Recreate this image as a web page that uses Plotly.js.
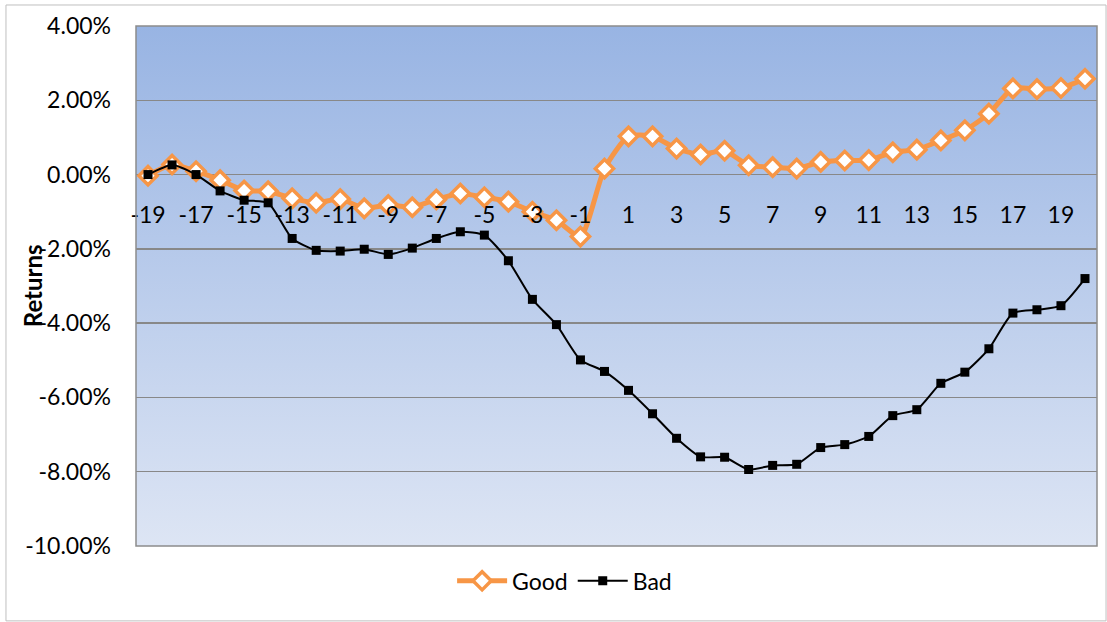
<!DOCTYPE html>
<html>
<head>
<meta charset="utf-8">
<script src="https://cdn.plot.ly/plotly-3.0.1.min.js"></script>
<style>
  html, body { margin: 0; padding: 0; background: #ffffff; }
  #chart { width: 1107px; height: 622px; }
</style>
</head>
<body>
<div id="chart"></div>
<script>
// Event-day axis (categories)
const days = [-19,-18,-17,-16,-15,-14,-13,-12,-11,-10,-9,-8,-7,-6,-5,-4,-3,-2,-1,0,
              1,2,3,4,5,6,7,8,9,10,11,12,13,14,15,16,17,18,19,20];
// Returns in percent
const goodReturns = [-0.03,0.27,0.09,-0.15,-0.43,-0.45,-0.64,-0.76,-0.66,-0.91,-0.82,-0.88,-0.67,-0.51,-0.61,-0.73,-1.00,-1.23,-1.67,0.16,
                     1.03,1.03,0.70,0.54,0.64,0.25,0.20,0.16,0.34,0.38,0.39,0.60,0.67,0.92,1.19,1.64,2.32,2.30,2.33,2.58];
const badReturns  = [0.00,0.26,0.00,-0.44,-0.69,-0.76,-1.72,-2.04,-2.06,-2.01,-2.15,-1.98,-1.72,-1.54,-1.63,-2.32,-3.36,-4.04,-4.99,-5.30,
                     -5.81,-6.44,-7.10,-7.60,-7.61,-7.94,-7.83,-7.80,-7.35,-7.27,-7.05,-6.49,-6.33,-5.62,-5.32,-4.69,-3.73,-3.64,-3.53,-2.80];
const xTickVals = [-19,-17,-15,-13,-11,-9,-7,-5,-3,-1,1,3,5,7,9,11,13,15,17,19];
const xTickText = ['-19','-17','-15','-13','-11','-9','-7','-5','-3','-1','1','3','5','7','9','11','13','15','17','19'];
const yTickVals = [-10,-8,-6,-4,-2,0,2,4];
const yTickText = ['-10.00%','-8.00%','-6.00%','-4.00%','-2.00%','0.00%','2.00%','4.00%'];

const fontFam = 'Lato, "Noto Sans", "Liberation Sans", sans-serif';

const gradSvg = '<svg xmlns="http://www.w3.org/2000/svg" width="100" height="100" preserveAspectRatio="none">' +
  '<defs><linearGradient id="g" x1="0" y1="0" x2="0" y2="1">' +
  '<stop offset="0" stop-color="#98B4E3"/><stop offset="1" stop-color="#DDE5F4"/>' +
  '</linearGradient></defs><rect width="100" height="100" fill="url(#g)"/></svg>';
const gradUri = 'data:image/svg+xml;base64,' + btoa(gradSvg);

const traces = [
  {
    x: days, y: goodReturns, name: 'Good', type: 'scatter', mode: 'lines+markers',
    line: {color: '#F79646', width: 5, shape: 'spline', smoothing: 0.6},
    marker: {symbol: 'diamond', size: 14, color: '#FFFFFF', line: {color: '#F79646', width: 3.5}}
  },
  {
    x: days, y: badReturns, name: 'Bad', type: 'scatter', mode: 'lines+markers',
    line: {color: '#000000', width: 2, shape: 'spline', smoothing: 0.6},
    marker: {symbol: 'square', size: 9, color: '#000000'}
  }
];

const layout = {
  width: 1107, height: 622,
  margin: {l: 136, r: 10, t: 26, b: 76},
  paper_bgcolor: '#FFFFFF',
  plot_bgcolor: 'rgba(0,0,0,0)',
  font: {family: fontFam, size: 23, color: '#000000'},
  showlegend: true,
  legend: {
    orientation: 'h', x: 0.446, xanchor: 'center', y: -0.067, yanchor: 'middle',
    itemwidth: 50, tracegroupgap: 0,
    font: {family: fontFam, size: 23, color: '#000000'}, bgcolor: 'rgba(0,0,0,0)'
  },
  xaxis: {
    range: [-19.5, 20.5], tickvals: xTickVals, ticktext: xTickText,
    showgrid: false, zeroline: false, showline: false, ticks: '',
    anchor: 'free', position: 10/14, ticklabelstandoff: 24,
    tickfont: {family: fontFam, size: 23, color: '#000000'}
  },
  yaxis: {
    range: [-10, 4], tickvals: yTickVals, ticktext: yTickText,
    showgrid: true, gridcolor: '#888888', gridwidth: 1.5,
    zeroline: false, showline: false, ticks: '', ticklabelstandoff: 24,
    tickfont: {family: fontFam, size: 23, color: '#000000'}
  },
  images: [{
    source: gradUri, xref: 'paper', yref: 'paper', x: 0, y: 1, sizex: 1, sizey: 1,
    xanchor: 'left', yanchor: 'top', sizing: 'stretch', layer: 'below'
  }],
  shapes: [
    {type: 'rect', xref: 'paper', yref: 'paper', x0: 0, x1: 1, y0: 0, y1: 1,
     line: {color: '#8C8C8C', width: 1.5}, fillcolor: 'rgba(0,0,0,0)'},
    {type: 'rect', xref: 'paper', yref: 'paper', x0: -0.1353, x1: 1.0094, y0: -0.144, y1: 1.0404,
     line: {color: '#BFBFBF', width: 1}, fillcolor: 'rgba(0,0,0,0)'}
  ],
  annotations: [{
    text: '<b>Returns</b>', xref: 'paper', yref: 'paper', x: -0.108, y: 0.5,
    xanchor: 'center', yanchor: 'middle', textangle: -90, showarrow: false,
    font: {family: fontFam, size: 24, color: '#000000'}
  }]
};

Plotly.newPlot('chart', traces, layout, {displayModeBar: false, staticPlot: true});
</script>
</body>
</html>
